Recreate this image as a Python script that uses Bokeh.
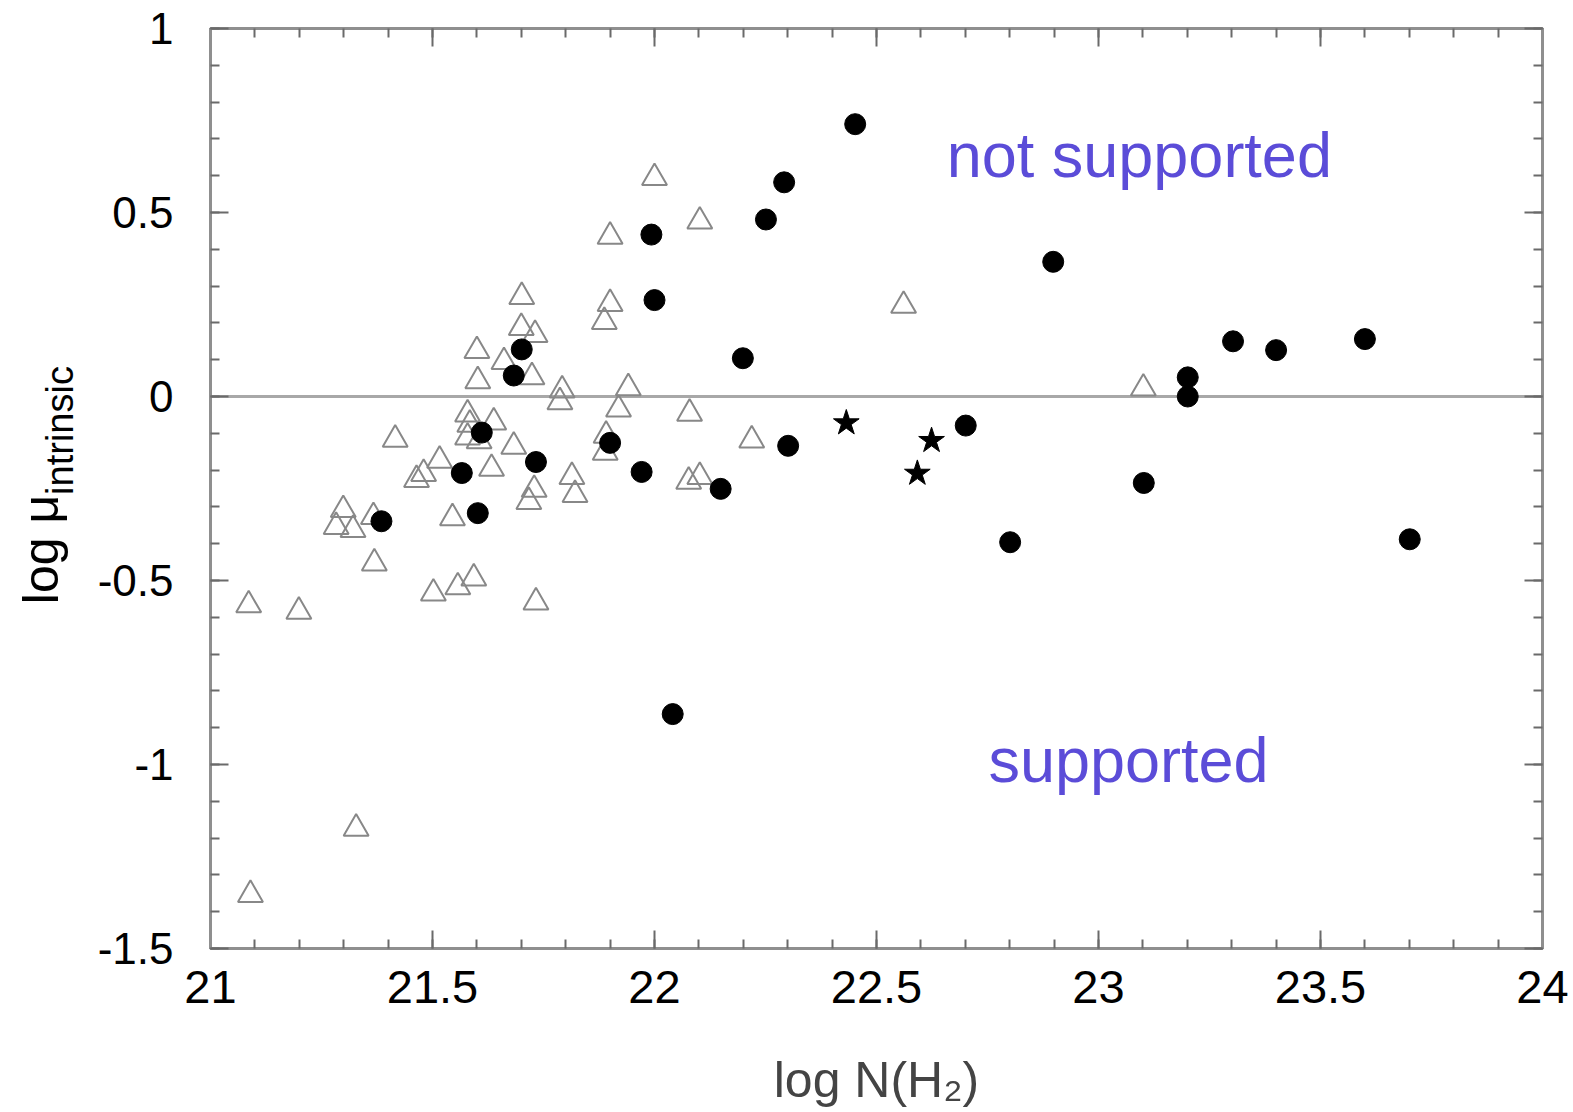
from bokeh.plotting import figure
from bokeh.models import (Range1d, FixedTicker, LinearAxis, CustomJSTickFormatter,
                          Span, Label, ColumnDataSource)
from bokeh.layouts import row
from bokeh.embed import file_html
from bokeh.resources import INLINE

# ---------------- data ----------------
circle_x = [21.385, 21.566, 21.602, 21.611, 21.683, 21.701, 21.733, 21.900, 21.971, 21.993,
            22.000, 22.041, 22.149, 22.199, 22.251, 22.292, 22.301, 22.452, 22.701, 22.801,
            22.898, 23.102, 23.201, 23.201, 23.303, 23.400, 23.600, 23.701]
circle_y = [-0.339, -0.208, -0.317, -0.098, 0.057, 0.128, -0.178, -0.126, -0.205, 0.440,
            0.262, -0.863, -0.251, 0.104, 0.481, 0.582, -0.134, 0.740, -0.079, -0.396,
            0.366, -0.235, 0.052, 0.000, 0.150, 0.126, 0.156, -0.388]

star_x = [22.432, 22.592, 22.624]
star_y = [-0.072, -0.209, -0.120]

tri_x = [21.086, 21.199, 21.299, 21.283, 21.321, 21.367, 21.369, 21.328, 21.090, 21.416,
         21.464, 21.480, 21.516, 21.502, 21.557, 21.593, 21.545, 21.600, 21.602, 21.579,
         21.584, 21.579, 21.605, 21.638, 21.633, 21.661, 21.683, 21.701, 21.700, 21.731,
         21.724, 21.717, 21.729, 21.733, 21.792, 21.787, 21.814, 21.821, 21.887, 21.900,
         21.900, 21.941, 21.919, 21.891, 21.889, 22.000, 22.102, 22.079, 22.077, 22.102,
         22.219, 22.561, 23.101]
tri_y = [-0.567, -0.584, -0.308, -0.354, -0.362, -0.327, -0.453, -1.174, -1.354, -0.117,
         -0.226, -0.210, -0.174, -0.535, -0.518, -0.494, -0.330, 0.124, 0.042, -0.048,
         -0.076, -0.111, -0.121, -0.070, -0.196, 0.094, -0.136, 0.271, 0.187, 0.168,
         0.053, -0.286, -0.253, -0.559, 0.017, -0.015, -0.218, -0.267, 0.203, 0.252,
         0.435, 0.023, -0.035, -0.106, -0.152, 0.594, 0.476, -0.046, -0.231, -0.218,
         -0.119, 0.247, 0.022]

x_ticks = [21, 21.5, 22, 22.5, 23, 23.5, 24]
x_tick_labels = ["21", "21.5", "22", "22.5", "23", "23.5", "24"]
y_ticks = [-1.5, -1, -0.5, 0, 0.5, 1]
y_tick_labels = ["-1.5", "-1", "-0.5", "0", "0.5", "1"]
x_minor = [round(21 + 0.1 * i, 1) for i in range(31)]
y_minor = [round(-1.5 + 0.1 * i, 1) for i in range(26)]

region_labels = ["not supported", "supported"]
region_label_x = [22.658, 22.752]
region_label_y = [0.657, -0.989]

FONT = "Liberation Sans"
GRAY = "#8f8f8f"
TICK = "#6a6a6a"
BLUE = "#5B4CD8"

H = 1110
LW = 80          # width of the strip that carries the y-axis title
W = 1570 - LW
FRAME_TOP, FRAME_BOTTOM = 28, 948

# ---------- strip with the y-axis title (log mu_intrinsic) ----------
lab = figure(width=LW, height=H, output_backend="svg", toolbar_location=None,
             x_range=Range1d(0, 1), y_range=Range1d(0, 1),
             x_axis_type=None, y_axis_type=None, min_border=0, title=None)
lab.outline_line_color = None
lab.background_fill_color = "white"
lab.border_fill_color = "white"
# screen units are measured from the frame's bottom-left (frames are aligned in the row)
lab.add_layout(Label(x=40, y=FRAME_BOTTOM - 549, x_units="screen", y_units="screen",
                     text="log μ", angle=1.5707963, text_font=FONT, text_font_size="50px",
                     text_color="black", text_align="center", text_baseline="middle"))
lab.add_layout(Label(x=59, y=FRAME_BOTTOM - 430, x_units="screen", y_units="screen",
                     text="intrinsic", angle=1.5707963, text_font=FONT,
                     text_font_size="38px", text_color="black",
                     text_align="center", text_baseline="middle"))

# ---------- main plot ----------
p = figure(width=W, height=H, output_backend="svg", toolbar_location=None,
           x_range=Range1d(21, 24), y_range=Range1d(-1.5, 1),
           x_axis_type=None, y_axis_type=None,
           min_border_left=210 - LW, min_border_right=W + LW - 1542,
           min_border_top=FRAME_TOP, min_border_bottom=H - FRAME_BOTTOM)
p.background_fill_color = "white"
p.border_fill_color = "white"
p.outline_line_color = GRAY
p.outline_line_width = 3
p.xgrid.visible = False
p.ygrid.visible = False


def fmt(vals, labels):
    return CustomJSTickFormatter(args=dict(tvals=vals, tlabels=labels), code="""
        for (let i = 0; i < tvals.length; i++) {
            if (Math.abs(tvals[i] - tick) < 1e-9) return tlabels[i];
        }
        return '';
    """)


blank = CustomJSTickFormatter(code="return '';")


def style(ax, labelled):
    ax.axis_line_color = GRAY
    ax.axis_line_width = 3
    ax.major_tick_in = 18
    ax.major_tick_out = 0
    ax.minor_tick_in = 9
    ax.minor_tick_out = 0
    ax.major_tick_line_color = TICK
    ax.minor_tick_line_color = TICK
    ax.major_tick_line_width = 2
    ax.minor_tick_line_width = 2
    ax.major_label_text_font = FONT
    ax.major_label_text_color = "black"
    if not labelled:
        ax.major_label_text_font_size = "1px"
        ax.major_label_standoff = 0


xb = LinearAxis(ticker=FixedTicker(ticks=x_ticks, minor_ticks=x_minor),
                formatter=fmt(x_ticks, x_tick_labels))
style(xb, True)
xb.major_label_text_font_size = "47px"
xb.major_label_standoff = 22
xb.axis_label = "log N(H₂)"
xb.axis_label_text_font = FONT
xb.axis_label_text_font_size = "50px"
xb.axis_label_text_font_style = "normal"
xb.axis_label_standoff = 46
p.add_layout(xb, "below")

xt = LinearAxis(ticker=FixedTicker(ticks=x_ticks, minor_ticks=x_minor), formatter=blank)
style(xt, False)
p.add_layout(xt, "above")

yl = LinearAxis(ticker=FixedTicker(ticks=y_ticks, minor_ticks=y_minor),
                formatter=fmt(y_ticks, y_tick_labels))
style(yl, True)
yl.major_label_text_font_size = "44px"
yl.major_label_standoff = 37
p.add_layout(yl, "left")

yr = LinearAxis(ticker=FixedTicker(ticks=y_ticks, minor_ticks=y_minor), formatter=blank)
style(yr, False)
p.add_layout(yr, "right")

# zero line
p.add_layout(Span(location=0, dimension="width", line_color="#a8a8a8",
                  line_width=3, level="underlay"))

# data
tri_src = ColumnDataSource(dict(x=tri_x, y=tri_y))
circ_src = ColumnDataSource(dict(x=circle_x, y=circle_y))
star_src = ColumnDataSource(dict(x=star_x, y=star_y))

p.scatter("x", "y", source=tri_src, marker="triangle", size=25,
          fill_color=None, line_color="#888888", line_width=2)
p.scatter("x", "y", source=circ_src, marker="circle", size=21,
          fill_color="black", line_color="black", line_width=1)
p.scatter("x", "y", source=star_src, marker="star", size=27,
          fill_color="black", line_color="black", line_width=1)

# region labels
for txt, lx, ly in zip(region_labels, region_label_x, region_label_y):
    p.add_layout(Label(x=lx, y=ly, text=txt, text_font=FONT, text_font_size="63px",
                       text_color=BLUE, text_align="left", text_baseline="alphabetic"))

layout = row(lab, p, spacing=0)
open("out.html", "w").write(file_html(layout, INLINE))
